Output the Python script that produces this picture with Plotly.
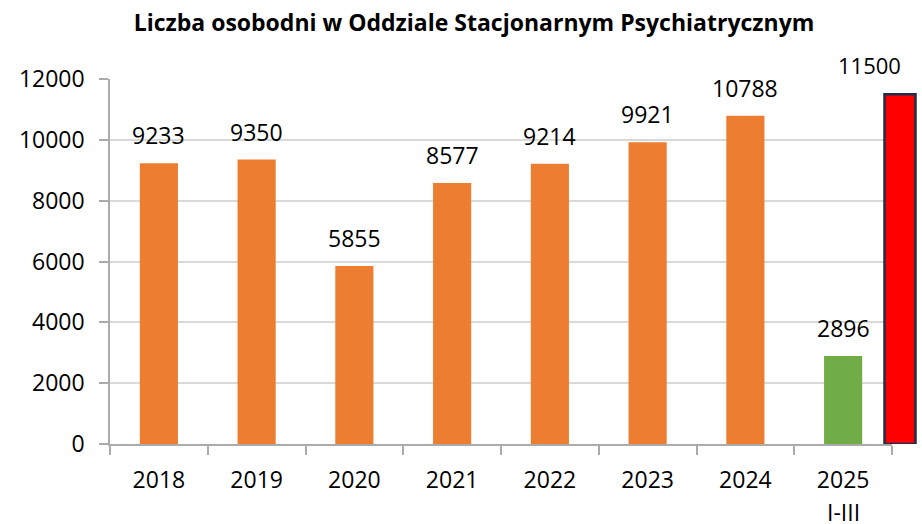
import plotly.graph_objects as go

# ---- data ----
years = ["2018", "2019", "2020", "2021", "2022", "2023", "2024", "2025"]
sub_label = "I-III"
values = [9233, 9350, 5855, 8577, 9214, 9921, 10788, 2896]
bar_colors = ["#ED7D31"] * 7 + ["#70AD47"]
forecast_cat = ["2025 prognoza"]
forecast_val = [11500]
title = "Liczba osobodni w Oddziale Stacjonarnym Psychiatrycznym"
y_ticks = [0, 2000, 4000, 6000, 8000, 10000, 12000]

FONT = "Open Sans"
W, H = 922, 524
ML, MR, MT, MB = 110, 0, 79, 80
plot_w = W - ML - MR
main_right_px = 892
x_dom = (main_right_px - ML) / plot_w

fig = go.Figure()
fig.add_trace(go.Bar(
    x=years, y=values, marker=dict(color=bar_colors, line=dict(width=0)),
    xaxis="x", yaxis="y", hoverinfo="x+y", showlegend=False,
))

# forecast bar on separate hidden axes
bar_px = 31
center_px = 900
unit_w = 0.8
px_per_unit = bar_px / unit_w
x2_range = [-(center_px - ML) / px_per_unit, (W - MR - center_px) / px_per_unit]
fig.add_trace(go.Bar(
    x=forecast_cat, y=forecast_val, width=[unit_w],
    marker=dict(color="#FF0000", line=dict(color="#1F2D4D", width=2.5)),
    xaxis="x2", yaxis="y2", showlegend=False,
))

annotations = []
for i, v in enumerate(values):
    annotations.append(dict(
        x=i, y=v, xref="x", yref="y", text=str(v), showarrow=False,
        yanchor="bottom", yshift=10, font=dict(family=FONT, size=23, color="#000000"),
    ))
annotations.append(dict(
    x=len(years) - 1, y=0, xref="x", yref="paper", text=sub_label, showarrow=False,
    yanchor="middle", yshift=-68, font=dict(family=FONT, size=23, color="#000000"),
))
for i, v in enumerate(forecast_val):
    annotations.append(dict(
        x=i, y=v, xref="x2", yref="y2", text=str(v), showarrow=False,
        xanchor="right", xshift=3, yanchor="bottom", yshift=12,
        font=dict(family=FONT, size=22, color="#000000"),
    ))

fig.update_layout(
    width=W, height=H,
    margin=dict(l=ML, r=MR, t=MT, b=MB, autoexpand=False),
    paper_bgcolor="#FFFFFF", plot_bgcolor="rgba(0,0,0,0)",
    bargap=0.61,
    title=dict(text="<b>" + title + "</b>", x=(474 - ML) / plot_w, xref="paper",
               xanchor="center", y=1 - 23 / H, yref="container", yanchor="middle",
               font=dict(family=FONT, size=23, color="#000000")),
    font=dict(family=FONT, size=23, color="#000000"),
    xaxis=dict(domain=[0, x_dom], type="category", anchor="y",
               range=[-0.5, len(years) - 0.5], autorange=False, automargin=False,
               showline=True, linecolor="#ABABAB", linewidth=1.5,
               ticks="outside", tickson="boundaries", ticklen=9, tickcolor="#ABABAB",
               tickwidth=1.5, showgrid=False, ticklabelstandoff=15,
               tickfont=dict(family=FONT, size=23, color="#000000")),
    yaxis=dict(domain=[0, 1], range=[0, 12000], tickvals=y_ticks, tickformat="d",
               anchor="x", automargin=False,
               showline=True, linecolor="#ABABAB", linewidth=1.5,
               ticks="outside", ticklen=9, tickcolor="#ABABAB", tickwidth=1.5,
               showgrid=True, gridcolor="#D9D9D9", gridwidth=1.5, zeroline=False,
               ticklabelstandoff=10,
               tickfont=dict(family=FONT, size=23, color="#000000")),
    xaxis2=dict(domain=[0, 1], type="category", range=x2_range, autorange=False,
                anchor="y2", visible=False, showgrid=False),
    yaxis2=dict(domain=[0, 1], range=[0, 12000], anchor="x2", visible=False,
                showgrid=False, zeroline=False),
    annotations=annotations,
)

fig.write_html(
    "out.html",
    config={"displayModeBar": False},
    post_script="document.body.style.margin='0';document.body.style.overflow='hidden';",
)
